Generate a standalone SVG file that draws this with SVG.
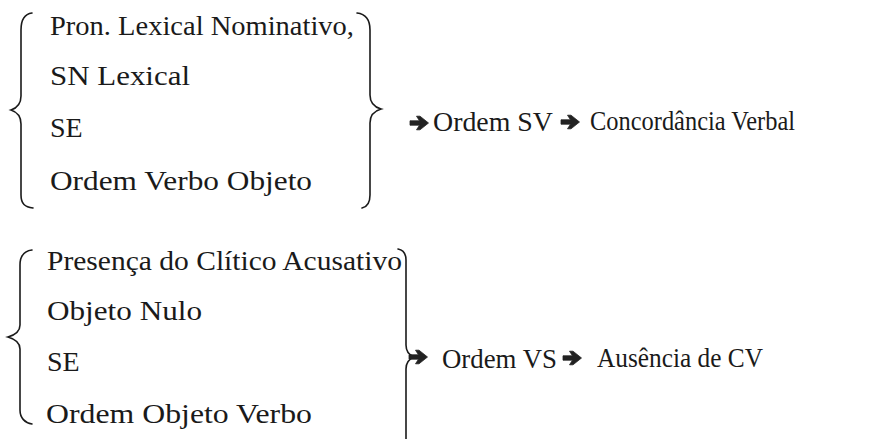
<svg xmlns="http://www.w3.org/2000/svg" width="870" height="439" viewBox="0 0 870 439">
<style>
.t{font-family:"Liberation Serif","Times New Roman",serif;font-size:28px;fill:#1a1a1a}
.br{fill:none;stroke:#1a1a1a;stroke-width:1.6;stroke-linecap:round}
.arrow{fill:#222;stroke:#222;stroke-width:0.8;stroke-linejoin:round}
</style>
<defs>
<path id="arr" class="arrow" d="M0,-2.2 L9.5,-2.2 L6.5,-6.8 L10,-6.8 L18.5,0 L10,6.8 L6.5,6.8 L9.5,2.2 L0,2.2 Z"/>
</defs>
<rect width="870" height="439" fill="#fff"/>
<g id="conditions-top">
<text class="t" x="50" y="35" textLength="304" lengthAdjust="spacingAndGlyphs">Pron. Lexical Nominativo,</text>
<text class="t" x="50" y="85" textLength="140" lengthAdjust="spacingAndGlyphs">SN Lexical</text>
<text class="t" x="50" y="137">SE</text>
<text class="t" x="50" y="190" textLength="262" lengthAdjust="spacingAndGlyphs">Ordem Verbo Objeto</text>
</g>
<g id="conditions-bottom">
<text class="t" x="47" y="270" textLength="355" lengthAdjust="spacingAndGlyphs">Presença do Clítico Acusativo</text>
<text class="t" x="47" y="320" textLength="155" lengthAdjust="spacingAndGlyphs">Objeto Nulo</text>
<text class="t" x="47" y="371">SE</text>
<text class="t" x="46" y="423" textLength="266" lengthAdjust="spacingAndGlyphs">Ordem Objeto Verbo</text>
</g>
<g id="brackets">
<path class="br" d="M32,13 C24,14 21,20 21,30 L21,96 C21,104 17,108 11,110 C17,112 21,116 21,124 L21,195 C21,204 25,207 33,208"/>
<path class="br" d="M357,13 C366,14 370,20 370,30 L370,95 C370,103 374,107 381,109 C374,111 370,115 370,123 L370,195 C370,203 367,207 362,208"/>
<path class="br" d="M32,250 C24,251 20,256 20,265 L20,325 C20,332 15,335 8,337 C15,339 20,342 20,349 L20,410 C20,418 25,423 32,424"/>
<path class="br" d="M398,249 C403,250 406,253 406,260 L406,345 C406,352 409,355 414,357 C409,359 406,362 406,369 L406,439"/>
</g>
<g id="result-top">
<use href="#arr" x="410" y="123"/>
<text class="t" x="433" y="131" textLength="120" lengthAdjust="spacingAndGlyphs">Ordem SV</text>
<use href="#arr" x="561" y="122"/>
<text class="t" x="590" y="130" textLength="205" lengthAdjust="spacingAndGlyphs">Concordância Verbal</text>
</g>
<g id="result-bottom">
<use href="#arr" x="409" y="357"/>
<text class="t" x="442" y="368" textLength="115" lengthAdjust="spacingAndGlyphs">Ordem VS</text>
<use href="#arr" x="563" y="358"/>
<text class="t" x="597" y="367" textLength="166" lengthAdjust="spacingAndGlyphs">Ausência de CV</text>
</g>
</svg>
